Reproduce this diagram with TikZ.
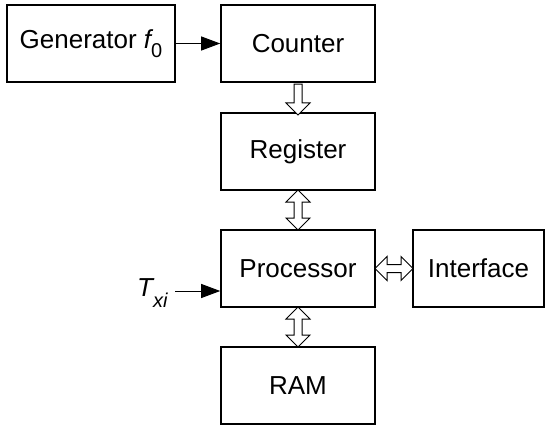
\documentclass[tikz,border=0pt]{standalone}
\usepackage{fontspec}
\setmainfont{Liberation Sans}
\usetikzlibrary{positioning, arrows.meta, shapes.arrows, calc}

\tikzset{
  blk/.style={draw, line width=1.6pt, minimum height=77pt, inner sep=0pt,
    font=\fontsize{26}{29}\selectfont},
  sig/.style={line width=1pt, -{Triangle[length=19pt, width=14pt]}},
  bus/.style={draw, line width=1pt, fill=white, inner xsep=0pt, inner ysep=3.5pt,
    minimum width=23pt},
  busone/.style={bus, single arrow, single arrow head extend=8pt},
  bustwo/.style={bus, double arrow, double arrow head extend=8pt},
}

\begin{document}
\begin{tikzpicture}[x=1pt, y=-1pt]
  \useasboundingbox (0,0) rectangle (550,431);

  % blocks
  \node[blk, minimum width=168pt] (gen) at (91,43.5)
    {Generator {\itshape f}\raisebox{-0.7ex}{\fontsize{20}{22}\selectfont 0}};
  \node[blk, minimum width=154pt] (cnt) at (298,43.5) {Counter};
  \node[blk, minimum width=154pt] (reg) at (298,151.5) {Register};
  \node[blk, minimum width=154pt] (proc) at (298,268.5) {Processor};
  \node[blk, minimum width=131pt] (intf) at (478.5,268.5) {Interface};
  \node[blk, minimum width=154pt] (ram) at (298,385.5) {RAM};

  % signals
  \draw[sig] (gen.east) -- (cnt.west);
  \coordinate (tin) at (175,291);
  \node[left=4pt of tin, font=\fontsize{26}{29}\selectfont, yshift=-2pt] (txi)
    {\itshape T\raisebox{-0.75ex}{\fontsize{20}{22}\selectfont xi}};
  \draw[sig] (tin) -- (tin -| proc.west);

  % buses
  \node[busone, rotate=270, minimum height=31pt]
    (b1) at ($(cnt.south)!0.5!(reg.north)$) {};
  \node[bustwo, rotate=90, minimum height=40pt]
    (b2) at ($(reg.south)!0.5!(proc.north)$) {};
  \node[bustwo, minimum height=38pt]
    (b3) at ($(proc.east)!0.5!(intf.west)$) {};
  \node[bustwo, rotate=90, minimum height=40pt]
    (b4) at ($(proc.south)!0.5!(ram.north)$) {};
\end{tikzpicture}
\end{document}
